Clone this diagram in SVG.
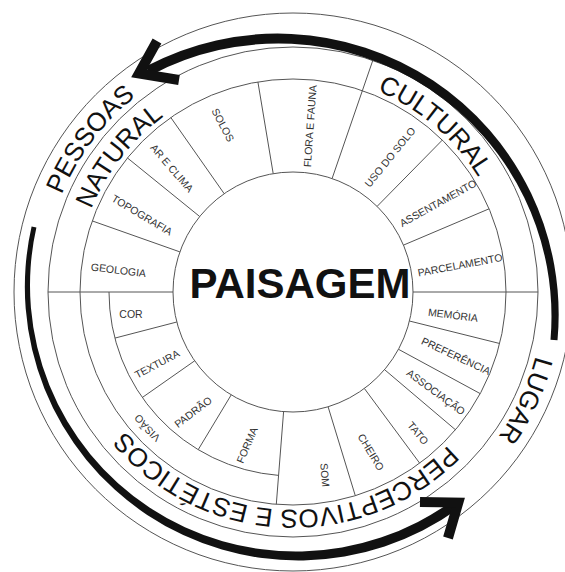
<svg xmlns="http://www.w3.org/2000/svg" width="565" height="572" viewBox="0 0 565 572">
<style>
.ring{fill:none;stroke:#555;stroke-width:1}
.div{stroke:#555;stroke-width:1;fill:none}
.cell{font-family:"Liberation Sans",Arial,sans-serif;font-size:10.5px;fill:#333;text-anchor:middle}
.band{font-family:"Liberation Sans",Arial,sans-serif;font-size:26px;fill:#111;text-anchor:middle}
.title{font-family:"Liberation Sans",Arial,sans-serif;font-size:42px;font-weight:bold;fill:#111;text-anchor:middle}
.shaft{fill:#111;stroke:none}
.head{fill:none;stroke:#111;stroke-width:10;stroke-linejoin:miter;stroke-linecap:butt}
</style>
<defs>
<path id="pNat" d="M75,292 A218,218 0 0 1 293,74"/>
<path id="pCul" d="M293,74 A218,218 0 0 1 511,292"/>
<path id="pPer" d="M511,292 A218,218 0 0 1 75,292"/>
<path id="pVis" d="M293,488 A196,196 0 0 1 97,292"/>
<path id="pPes" d="M42,292 A251,251 0 0 1 293,41"/>
<path id="pLug" d="M293,41 A251,251 0 0 1 293,543"/>
</defs>
<rect width="565" height="572" fill="#fff"/>

<g id="rings">
<circle class="ring" cx="293" cy="292" r="279"/>
<circle class="ring" cx="293" cy="292" r="245"/>
<circle class="ring" cx="293" cy="292" r="213"/>
<circle class="ring" cx="293" cy="292" r="120"/>
<path class="div" d="M278.6,475.4 A184,184 0 0 1 109,292"/>
</g>

<g id="dividers">
<line class="div" x1="179.9" y1="251.9" x2="92.2" y2="220.9"/>
<line class="div" x1="199.7" y1="216.5" x2="127.5" y2="158.0"/>
<line class="div" x1="224.2" y1="193.7" x2="170.8" y2="117.5"/>
<line class="div" x1="273.2" y1="173.6" x2="257.9" y2="81.9"/>
<line class="div" x1="332.1" y1="178.5" x2="372.8" y2="60.4"/>
<line class="div" x1="377.1" y1="206.4" x2="442.3" y2="140.1"/>
<line class="div" x1="403.5" y1="245.1" x2="489.1" y2="208.8"/>
<line class="div" x1="413" y1="292" x2="538" y2="292"/>
<line class="div" x1="173" y1="292" x2="48" y2="292"/>
<line class="div" x1="409.4" y1="321.0" x2="499.7" y2="343.5"/>
<line class="div" x1="398.5" y1="349.3" x2="480.2" y2="393.6"/>
<line class="div" x1="384.5" y1="369.6" x2="455.5" y2="429.8"/>
<line class="div" x1="364.4" y1="388.5" x2="419.7" y2="463.2"/>
<line class="div" x1="328.1" y1="406.8" x2="355.3" y2="495.7"/>
<line class="div" x1="283.6" y1="411.6" x2="276.3" y2="504.3"/>
<line class="div" x1="231.2" y1="394.9" x2="198.2" y2="449.7"/>
<line class="div" x1="194.7" y1="360.8" x2="142.3" y2="397.5"/>
<line class="div" x1="176.8" y1="322.0" x2="114.9" y2="338.1"/>
</g>

<g id="paisagem"><text class="title" x="300" y="298">PAISAGEM</text></g>

<g id="natural">
<text class="band"><textPath href="#pNat" startOffset="42.2%">NATURAL</textPath></text>
<g id="geologia"><text class="cell" dy="0.36em" transform="translate(118.5,270) rotate(7)">GEOLOGIA</text></g>
<g id="topografia"><text class="cell" dy="0.36em" transform="translate(142,215) rotate(31)">TOPOGRAFIA</text></g>
<g id="ar-e-clima"><text class="cell" dy="0.36em" transform="translate(172,168) rotate(49)">AR E CLIMA</text></g>
<g id="solos"><text class="cell" dy="0.36em" transform="translate(223,125) rotate(62)">SOLOS</text></g>
<g id="flora-e-fauna"><text class="cell" dy="0.36em" transform="translate(310,126) rotate(-86)">FLORA E FAUNA</text></g>
</g>

<g id="cultural">
<text class="band"><textPath href="#pCul" startOffset="45%">CULTURAL</textPath></text>
<g id="uso-do-solo"><text class="cell" dy="0.36em" transform="translate(390,157) rotate(-51)">USO DO SOLO</text></g>
<g id="assentamento"><text class="cell" dy="0.36em" transform="translate(438,203) rotate(-29)">ASSENTAMENTO</text></g>
<g id="parcelamento"><text class="cell" dy="0.36em" transform="translate(460,265) rotate(-10.5)">PARCELAMENTO</text></g>
</g>

<g id="perceptivos">
<text class="band"><textPath href="#pPer" startOffset="51.4%">PERCEPTIVOS E ESTÉTICOS</textPath></text>
<g id="memoria"><text class="cell" dy="0.36em" transform="translate(453,315) rotate(7)">MEMÓRIA</text></g>
<g id="preferencia"><text class="cell" dy="0.36em" transform="translate(456,356) rotate(25)">PREFERÊNCIA</text></g>
<g id="associacao"><text class="cell" dy="0.36em" transform="translate(436,392) rotate(36.5)">ASSOCIAÇÃO</text></g>
<g id="tato"><text class="cell" dy="0.36em" transform="translate(418,433) rotate(50)">TATO</text></g>
<g id="cheiro"><text class="cell" dy="0.36em" transform="translate(371,452) rotate(59)">CHEIRO</text></g>
<g id="som"><text class="cell" dy="0.36em" transform="translate(325,475) rotate(85)">SOM</text></g>
<g id="forma"><text class="cell" dy="0.36em" transform="translate(247,445) rotate(-67)">FORMA</text></g>
<g id="padrao"><text class="cell" dy="0.36em" transform="translate(193,412) rotate(-37)">PADRÃO</text></g>
<g id="textura"><text class="cell" dy="0.36em" transform="translate(157,364) rotate(-28)">TEXTURA</text></g>
<g id="cor"><text class="cell" dy="0.36em" transform="translate(131,314)">COR</text></g>
<g id="visao"><text class="cell"><textPath href="#pVis" startOffset="52.2%">VISÃO</textPath></text></g>
</g>

<g id="pessoas"><text class="band"><textPath href="#pPes" startOffset="41.1%">PESSOAS</textPath></text></g>
<g id="lugar"><text class="band"><textPath href="#pLug" startOffset="63.9%">LUGAR</textPath></text></g>

<g id="connectors">
<path class="shaft" d="M557.5,340.3 A281,281 0 0 0 145.6,66.6 L150.4,75.4 A273,273 0 0 1 550.5,339.7 Z"/>
<polyline class="head" points="157,41 139,73.5 179,80"/>
<path class="shaft" d="M31.6,226.5 A273.5,273.5 0 0 0 457.9,509.1 L452.1,500.9 A266,266 0 0 1 36.4,227.5 Z"/>
<polyline class="head" points="420,502 458.3,502.6 448,538"/>
</g>
</svg>
